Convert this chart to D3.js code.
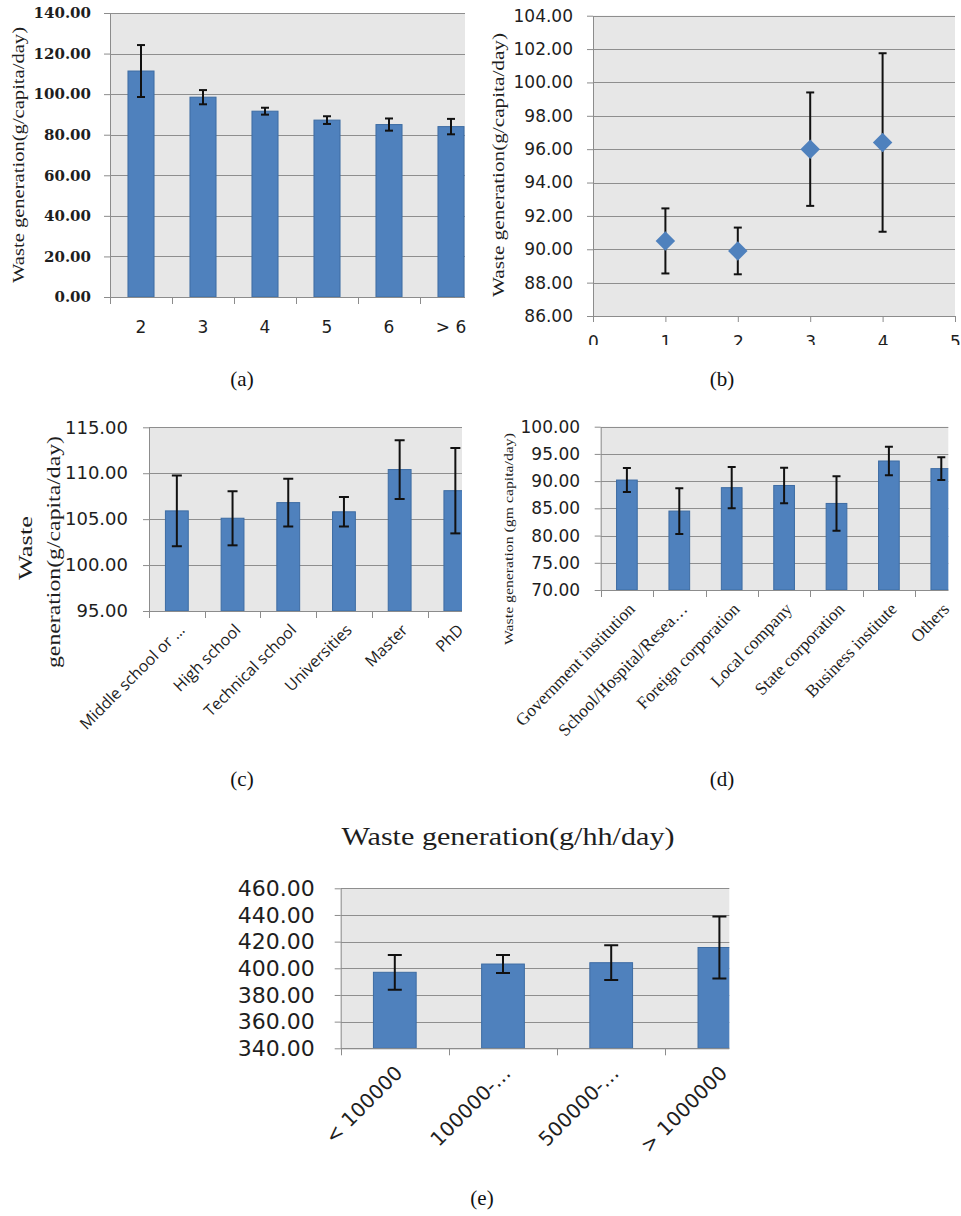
<!DOCTYPE html>
<html>
<head>
<meta charset="utf-8">
<script src="https://cdn.jsdelivr.net/npm/d3@7"></script>
<style>
  body { margin: 0; background: #fff; }
  svg { display: block; }
</style>
</head>
<body>
<div id="chart"></div>
<script>
// (a) household size
const sizeCats = ["2", "3", "4", "5", "6", "> 6"];
const sizeMean = [111.4, 98.5, 91.6, 87.2, 85.0, 84.0];
const sizeErr = [12.8, 3.5, 1.7, 1.9, 3.0, 3.8];
const sizeTicks = [0, 20, 40, 60, 80, 100, 120, 140];

// (b) groups 1-4
const groupX = [1, 2, 3, 4];
const groupMean = [90.5, 89.9, 96.0, 96.4];
const groupErr = [1.95, 1.4, 3.4, 5.35];
const groupYTicks = [86, 88, 90, 92, 94, 96, 98, 100, 102, 104];
const groupXTicks = [0, 1, 2, 3, 4, 5];

// (c) education
const eduCats = ["Middle school or ...", "High school", "Technical school", "Universities", "Master", "PhD"];
const eduMean = [105.9, 105.1, 106.8, 105.8, 110.4, 108.1];
const eduErr = [3.85, 2.95, 2.6, 1.6, 3.2, 4.65];
const eduTicks = [95, 100, 105, 110, 115];

// (d) occupation
const jobCats = ["Government institution", "School/Hospital/Resea…", "Foreign corporation", "Local company",
                 "State corporation", "Business institute", "Others"];
const jobMean = [90.2, 84.5, 88.8, 89.2, 85.9, 93.7, 92.3];
const jobErr = [2.2, 4.2, 3.8, 3.25, 5.0, 2.6, 2.1];
const jobTicks = [70, 75, 80, 85, 90, 95, 100];

// (e) income
const incomeCats = ["< 100000", "100000-…", "500000-…", "> 1000000"];
const incomeMean = [397.0, 403.2, 404.2, 415.6];
const incomeErr = [13.0, 6.8, 13.0, 23.3];
const incomeTicks = [340, 360, 380, 400, 420, 440, 460];

const BAR = "#4f81bd", BAR_EDGE = "#3d6ca3", GRID = "#8e8e8e", PLOT_BG = "#e7e7e7",
      AXIS = "#8c8c8c", INK = "#1e1e1e";
const SERIF = "'Liberation Serif', 'Times New Roman', serif";
const SANS = "'DejaVu Sans', sans-serif";
const fmt = d3.format(".2f");

const svg = d3.select("#chart").append("svg")
    .attr("width", 961)
    .attr("height", 1216);

function errorBars(sel, rows, cx, y, cap) {
    const eg = sel.append("g").attr("stroke", "#111").attr("stroke-width", 2);
    eg.selectAll(".stem").data(rows).join("line")
        .attr("x1", cx).attr("x2", cx)
        .attr("y1", d => y(d.m + d.e)).attr("y2", d => y(d.m - d.e));
    eg.selectAll(".capT").data(rows).join("line")
        .attr("x1", d => cx(d) - cap / 2).attr("x2", d => cx(d) + cap / 2)
        .attr("y1", d => y(d.m + d.e)).attr("y2", d => y(d.m + d.e));
    eg.selectAll(".capB").data(rows).join("line")
        .attr("x1", d => cx(d) - cap / 2).attr("x2", d => cx(d) + cap / 2)
        .attr("y1", d => y(d.m - d.e)).attr("y2", d => y(d.m - d.e));
}

function yAxis(g, p, y) {
    const ya = g.append("g")
        .attr("transform", `translate(${p.left},0)`)
        .call(d3.axisLeft(y).tickValues(p.ticks).tickFormat(fmt)
            .tickSize(6).tickSizeOuter(0).tickPadding(p.yPad));
    ya.select(".domain").attr("stroke", AXIS);
    ya.selectAll(".tick line").attr("stroke", AXIS);
    ya.selectAll(".tick text")
        .attr("fill", INK)
        .style("font-family", p.yFamily || SANS)
        .style("font-size", p.ySize + "px")
        .style("font-weight", p.yWeight || "normal");
}

function plotBack(g, p, y) {
    g.append("rect")
        .attr("x", p.left).attr("y", p.top)
        .attr("width", p.right - p.left).attr("height", p.bottom - p.top)
        .attr("fill", PLOT_BG);
    g.append("g").selectAll("line").data(p.ticks).join("line")
        .attr("x1", p.left).attr("x2", p.right)
        .attr("y1", d => Math.round(y(d)) + 0.5).attr("y2", d => Math.round(y(d)) + 0.5)
        .attr("stroke", GRID);
}

function yTitle(g, lines, cx, cy, size, len) {
    lines.forEach((t, i) => {
        g.append("text")
            .attr("transform", `translate(${cx[i]},${cy[i]}) rotate(-90)`)
            .attr("text-anchor", "middle")
            .attr("dy", "0.35em")
            .attr("textLength", len[i])
            .attr("lengthAdjust", "spacingAndGlyphs")
            .style("font-family", SERIF)
            .style("font-size", size + "px")
            .attr("fill", INK)
            .text(t);
    });
}

function barPanel(p) {
    const g = svg.append("g");
    const clip = "clip-" + p.id;
    g.append("clipPath").attr("id", clip).append("rect")
        .attr("x", p.left).attr("y", p.top - 3)
        .attr("width", p.right - p.left).attr("height", p.bottom - p.top + 3);

    const x = d3.scaleBand().domain(p.cats).range([p.left, p.left + p.cats.length * p.step]);
    const y = d3.scaleLinear().domain([p.ticks[0], p.ticks[p.ticks.length - 1]]).range([p.bottom, p.top]);
    const rows = p.cats.map((c, i) => ({ c, m: p.mean[i], e: p.err[i] }));

    plotBack(g, p, y);

    const bw = x.bandwidth() * p.barRatio;
    const plot = g.append("g").attr("clip-path", `url(#${clip})`);
    plot.selectAll("rect").data(rows).join("rect")
        .attr("x", d => x(d.c) + (x.bandwidth() - bw) / 2)
        .attr("y", d => y(d.m))
        .attr("width", bw)
        .attr("height", d => y(p.ticks[0]) - y(d.m))
        .attr("fill", BAR)
        .attr("stroke", BAR_EDGE);

    errorBars(plot, rows, d => x(d.c) + x.bandwidth() / 2, y, p.cap);

    yAxis(g, p, y);

    // category axis: line + ticks at band edges
    const edges = p.cats.map(c => x(c)).concat([x.range()[1]]).filter(v => v <= p.right + 0.5);
    g.append("line")
        .attr("x1", p.left).attr("x2", p.right)
        .attr("y1", p.bottom + 0.5).attr("y2", p.bottom + 0.5)
        .attr("stroke", AXIS);
    g.append("g").selectAll("line").data(edges).join("line")
        .attr("x1", d => Math.round(d) + 0.5).attr("x2", d => Math.round(d) + 0.5)
        .attr("y1", p.bottom).attr("y2", p.bottom + 7)
        .attr("stroke", AXIS);

    g.append("g").selectAll("text").data(p.cats).join("text")
        .attr("transform", c => `translate(${x(c) + x.bandwidth() / 2 + p.lx},${p.bottom + p.ly}) rotate(${p.rot})`)
        .attr("text-anchor", p.rot ? "end" : "middle")
        .style("font-family", p.xFamily || SANS)
        .style("font-size", p.xSize + "px")
        .attr("fill", INK)
        .text(c => c);
    return g;
}

// ---- (a)
const ga = barPanel({
    id: "a", cats: sizeCats, mean: sizeMean, err: sizeErr, ticks: sizeTicks,
    left: 110, right: 465, top: 13, bottom: 297, step: 62, barRatio: 0.42, cap: 8,
    yPad: 13, ySize: 15, yFamily: "'DejaVu Serif', serif", yWeight: "bold",
    xSize: 17, lx: 0, ly: 36, rot: 0
});
yTitle(ga, ["Waste generation(g/capita/day)"], [18], [155], 17, [256]);

// ---- (b) scatter with error bars
(function () {
    const p = { left: 593, right: 955, top: 15.7, bottom: 316, ticks: groupYTicks, yPad: 14, ySize: 17 };
    const g = svg.append("g");
    const x = d3.scaleLinear().domain([0, 5]).range([p.left, p.right]);
    const y = d3.scaleLinear().domain([86, 104]).range([p.bottom, p.top]);
    const rows = groupX.map((v, i) => ({ v, m: groupMean[i], e: groupErr[i] }));

    plotBack(g, p, y);
    yAxis(g, p, y);

    // the source figure is cut just below the x tick labels
    svg.append("clipPath").attr("id", "clip-bx").append("rect")
        .attr("x", 560).attr("y", 290).attr("width", 401).attr("height", 55);
    const holder = g.append("g").attr("clip-path", "url(#clip-bx)");
    const xa = holder.append("g")
        .attr("transform", `translate(0,${p.bottom})`)
        .call(d3.axisBottom(x).tickValues(groupXTicks).tickFormat(d3.format("d"))
            .tickSize(6).tickSizeOuter(0).tickPadding(6));
    xa.select(".domain").attr("stroke", AXIS);
    xa.selectAll(".tick line").attr("stroke", AXIS);
    xa.selectAll(".tick text")
        .attr("fill", INK)
        .attr("y", 20)
        .attr("dy", "0.71em")
        .style("font-family", SANS)
        .style("font-size", "17px");

    errorBars(g, rows, d => x(d.v), y, 8);

    g.append("g").selectAll("path").data(rows).join("path")
        .attr("d", d3.symbol(d3.symbolSquare, 190))
        .attr("transform", d => `translate(${x(d.v)},${y(d.m)}) rotate(45)`)
        .attr("fill", BAR);

    yTitle(g, ["Waste generation(g/capita/day)"], [498], [165], 17, [264]);
})();

// ---- (c)
const gc = barPanel({
    id: "c", cats: eduCats, mean: eduMean, err: eduErr, ticks: eduTicks,
    left: 149, right: 462, top: 427.3, bottom: 611, step: 55.7, barRatio: 0.41, cap: 10,
    yPad: 15, ySize: 18,
    xSize: 16, xFamily: "'Open Sans', sans-serif", lx: 9, ly: 20, rot: -45
});
yTitle(gc, ["Waste", "generation(g/capita/day)"], [25, 53], [548, 552], 19, [64, 232]);

// ---- (d)
const gd = barPanel({
    id: "d", cats: jobCats, mean: jobMean, err: jobErr, ticks: jobTicks,
    left: 600.7, right: 948.3, top: 426.7, bottom: 590, step: 52.4, barRatio: 0.395, cap: 8,
    yPad: 14.7, ySize: 17,
    xSize: 17.5, xFamily: SERIF, lx: 9, ly: 20, rot: -46
});
yTitle(gd, ["Waste generation (gm capita/day)"], [508], [539], 13, [212]);

// ---- (e)
const ge = barPanel({
    id: "e", cats: incomeCats, mean: incomeMean, err: incomeErr, ticks: incomeTicks,
    left: 340.7, right: 729.3, top: 888.3, bottom: 1048.3, step: 108.2, barRatio: 0.395, cap: 14,
    yPad: 20, ySize: 22,
    xSize: 20, lx: 9, ly: 26, rot: -45
});
ge.append("text")
    .attr("x", 508).attr("y", 845)
    .attr("text-anchor", "middle")
    .attr("textLength", 333)
    .attr("lengthAdjust", "spacingAndGlyphs")
    .style("font-family", SERIF)
    .style("font-size", "26px")
    .attr("fill", INK)
    .text("Waste generation(g/hh/day)");

// ---- captions
const captions = ["(a)", "(b)", "(c)", "(d)", "(e)"];
const capPos = [[242, 386], [722, 386], [242, 786], [722, 786], [482, 1205]];
svg.append("g").selectAll("text").data(captions).join("text")
    .attr("x", (d, i) => capPos[i][0])
    .attr("y", (d, i) => capPos[i][1])
    .attr("text-anchor", "middle")
    .style("font-family", SERIF)
    .style("font-size", "21px")
    .attr("fill", "#111")
    .text(d => d);
</script>
</body>
</html>
